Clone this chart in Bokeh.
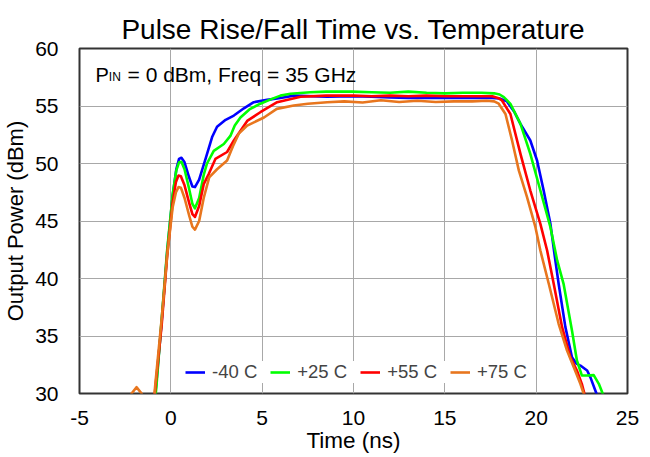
from bokeh.plotting import figure
from bokeh.models import Legend, LegendItem, Label, FixedTicker, Range1d
from bokeh.embed import file_html
from bokeh.resources import INLINE

FONT = "Liberation Sans"

title_text = "Pulse Rise/Fall Time vs. Temperature"
x_label = "Time (ns)"
y_label = "Output Power (dBm)"
x_ticks = [-5, 0, 5, 10, 15, 20, 25]
x_tick_labels = ["-5", "0", "5", "10", "15", "20", "25"]
y_ticks = [30, 35, 40, 45, 50, 55, 60]
y_tick_labels = ["30", "35", "40", "45", "50", "55", "60"]
note_main = "P"
note_sub = "IN"
note_rest = "= 0 dBm, Freq = 35 GHz"

series_names = ["-40 C", "+25 C", "+55 C", "+75 C"]
series_colors = ["#0000FF", "#00FF00", "#FF0000", "#E8761E"]

# -40 C
t_m40 = [-5, -0.92, -0.8, -0.5, -0.2, 0.1, 0.3, 0.45, 0.58, 0.75, 1.0, 1.18, 1.32, 1.55, 1.9,
         2.26, 2.53, 3.0, 3.45, 4.0, 4.54, 5.27, 6.0, 6.73, 8.56, 10, 11, 12, 13, 14, 15, 16,
         17, 17.6, 18.0, 18.4, 18.8, 19.14, 19.68, 20.05, 20.41, 20.78, 21.05, 21.23, 21.6,
         21.96, 22.2, 22.42, 22.79, 22.97, 23.3, 23.45]
p_m40 = [29, 29, 30.8, 36.3, 42.3, 47.2, 49.5, 50.4, 50.5, 50.1, 48.8, 48.0, 47.95, 48.6, 50.4,
         52.3, 53.2, 53.8, 54.17, 54.8, 55.33, 55.53, 55.7, 55.9, 55.8, 55.85, 55.8, 55.75, 55.7,
         55.7, 55.7, 55.72, 55.7, 55.7, 55.65, 55.4, 54.5, 53.45, 52.0, 50.26, 47.65, 44.75,
         41.57, 39.54, 35.77, 33.16, 32.6, 32.43, 32.0, 31.4, 30.0, 29]

# +25 C
t_p25 = [-5, -0.88, -0.78, -0.5, -0.2, 0.1, 0.3, 0.45, 0.58, 0.75, 1.0, 1.18, 1.32, 1.55, 1.8,
         1.98, 2.35, 2.9, 3.26, 3.5, 3.81, 4.3, 4.9, 5.5, 6.0, 6.55, 7.64, 8.5, 9.9, 11, 12, 13,
         14, 15, 16, 17, 17.7, 18.0, 18.23, 18.59, 19.14, 19.68, 20.23, 20.78, 21.15, 21.5,
         21.96, 22.23, 22.5, 22.79, 23.15, 23.43, 23.64, 23.75]
p_p25 = [29, 29, 30.8, 36.5, 42.5, 47.3, 49.4, 50.1, 50.15, 49.5, 47.8, 46.5, 46.1, 47.0, 49.0,
         50.0, 51.1, 51.7, 52.4, 53.3, 54.0, 54.7, 55.2, 55.6, 55.9, 56.06, 56.2, 56.25, 56.25,
         56.2, 56.15, 56.25, 56.15, 56.1, 56.15, 56.15, 56.1, 56.0, 55.78, 55.19, 53.45, 50.84,
         47.65, 44.46, 41.57, 39.54, 35.48, 32.87, 31.57, 31.57, 31.6, 30.84, 30.0, 29]

# +55 C
t_p55 = [-5, -0.93, -0.83, -0.5, -0.2, 0.1, 0.28, 0.42, 0.55, 0.75, 1.0, 1.18, 1.32, 1.55, 1.8,
         2.08, 2.44, 3.08, 3.45, 4.18, 4.9, 5.82, 7.1, 8.5, 10, 11, 12, 13, 14, 15, 16, 17, 17.6,
         17.9, 18.13, 18.59, 19.14, 19.68, 20.23, 20.6, 20.96, 21.42, 21.87, 22.23, 22.5, 22.64,
         22.72]
p_p55 = [29, 29, 30.8, 36.0, 42.0, 46.6, 48.4, 48.95, 48.9, 48.1, 46.6, 45.6, 45.35, 46.3, 48.2,
         49.1, 50.4, 51.0, 52.0, 53.7, 54.46, 55.33, 55.8, 55.9, 55.9, 55.85, 55.9, 55.85, 55.9,
         55.85, 55.85, 55.85, 55.85, 55.7, 55.48, 54.3, 50.84, 47.65, 44.75, 42.43, 39.54, 35.77,
         33.16, 32.0, 30.84, 30.0, 29]

# +75 C
t_p75 = [-5, -2.3, -2.15, -1.88, -1.6, -1.45, -0.95, -0.85, -0.5, -0.2, 0.1, 0.28, 0.42, 0.55,
         0.75, 1.0, 1.18, 1.32, 1.55, 1.8, 2.1, 2.53, 3.08, 3.4, 3.72, 4.18, 5.1, 5.8, 6.73, 7.5,
         8.56, 9.5, 10.5, 11.5, 12.5, 13.5, 14.5, 15.5, 16.5, 17.3, 17.7, 17.95, 18.32, 18.68,
         19.05, 19.5, 19.96, 20.23, 20.69, 21.23, 21.69, 22.06, 22.42, 22.6, 22.7]
p_p75 = [29, 29, 30.0, 30.55, 30.0, 29, 29, 30.8, 36.5, 42.0, 46.2, 47.5, 47.95, 47.9, 47.0,
         45.5, 44.5, 44.25, 45.0, 47.0, 48.8, 49.5, 50.26, 51.5, 52.6, 53.3, 54.0, 54.75, 55.04,
         55.2, 55.33, 55.4, 55.3, 55.5, 55.35, 55.45, 55.35, 55.4, 55.4, 55.45, 55.4, 55.2, 54.3,
         52.0, 49.4, 47.07, 44.46, 42.43, 39.54, 36.06, 33.74, 32.29, 30.84, 30.0, 29]

series_t = [t_m40, t_p25, t_p55, t_p75]
series_p = [p_m40, p_p25, p_p55, p_p75]

p = figure(frame_width=548, frame_height=345, output_backend="svg", toolbar_location=None,
           x_range=Range1d(-5, 25), y_range=Range1d(30, 60),
           min_border_left=71, min_border_right=15, min_border_top=48, min_border_bottom=48)
p.background_fill_color = "white"
p.border_fill_color = "white"
p.outline_line_color = "#333333"
p.outline_line_width = 2

p.title.text = title_text
p.title.text_font = FONT
p.title.text_font_size = "28px"
p.title.text_font_style = "normal"
p.title.text_color = "black"
p.title.align = "center"
p.title.standoff = 7

for ax in (p.xaxis[0], p.yaxis[0]):
    ax.axis_line_color = None
    ax.major_tick_line_color = None
    ax.minor_tick_line_color = None
    ax.major_label_text_font = FONT
    ax.major_label_text_font_size = "21px"
    ax.major_label_text_color = "black"
    ax.axis_label_text_font = FONT
    ax.axis_label_text_font_style = "normal"
    ax.axis_label_text_color = "black"

p.xaxis.axis_label_text_font_size = "22.5px"
p.yaxis.axis_label_text_font_size = "22px"
p.xaxis.ticker = FixedTicker(ticks=x_ticks)
p.xaxis.major_label_overrides = {t: s for t, s in zip(x_ticks, x_tick_labels)}
p.yaxis.ticker = FixedTicker(ticks=y_ticks)
p.yaxis.major_label_overrides = {t: s for t, s in zip(y_ticks, y_tick_labels)}
p.xaxis.axis_label = x_label
p.yaxis.axis_label = y_label
p.xaxis.major_label_standoff = 11
p.xaxis.axis_label_standoff = 0
p.yaxis.major_label_standoff = 15
p.yaxis.axis_label_standoff = 4

p.xgrid.ticker = FixedTicker(ticks=x_ticks)
p.ygrid.ticker = FixedTicker(ticks=y_ticks)
p.grid.grid_line_color = "#A8A8A8"
p.grid.grid_line_width = 1

items = []
for name, color, t, v in zip(series_names, series_colors, series_t, series_p):
    r = p.line(t, v, line_color=color, line_width=2.6, line_join="round")
    items.append(LegendItem(label=name, renderers=[r]))

legend = Legend(items=items, orientation="horizontal", location=(106, 10),
                label_text_font=FONT, label_text_font_size="18.5px",
                glyph_width=20, glyph_height=18, label_standoff=7, spacing=13,
                padding=8, margin=0, border_line_color=None,
                background_fill_color="white", background_fill_alpha=1.0)
p.add_layout(legend)

p.add_layout(Label(x=-4.12, y=57.72, text=note_main, text_font=FONT, text_font_size="20px",
                   text_baseline="alphabetic", text_color="black"))
p.add_layout(Label(x=-4.12, y=57.55, x_offset=13.3, text=note_sub, text_font=FONT,
                   text_font_size="12px", text_baseline="alphabetic", text_color="black"))
p.add_layout(Label(x=-4.12, y=57.72, x_offset=32.0, text=note_rest, text_font=FONT,
                   text_font_size="21px", text_baseline="alphabetic", text_color="black"))

open("out.html", "w").write(file_html(p, INLINE))
